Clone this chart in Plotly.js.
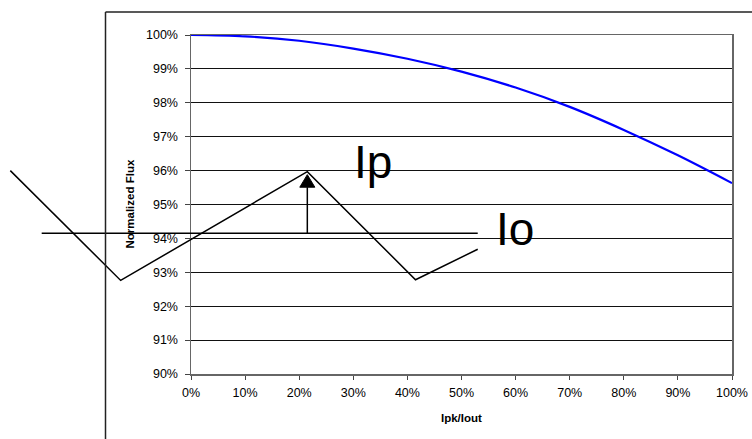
<!DOCTYPE html>
<html>
<head>
<meta charset="utf-8">
<script src="https://cdn.plot.ly/plotly-3.0.1.min.js"></script>
<style>html,body{margin:0;padding:0;background:#fff;}#chart{width:752px;height:439px;}</style>
</head>
<body>
<div id="chart"></div>
<script>
// Curve data: normalized flux vs Ipk/Iout
const ratio = [0, 0.1, 0.2, 0.3, 0.4, 0.5, 0.6, 0.7, 0.8, 0.9, 1.0];
const flux  = [1.0, 0.9996, 0.9983, 0.9960, 0.9930, 0.9892, 0.9845, 0.9788, 0.9720, 0.9645, 0.9563];

// Overlay sketch (ripple waveform), in axis units (x fraction, y fraction)
const waveX = [-0.334, -0.130, 0.215, 0.415, 0.530];
const waveY = [0.9600, 0.9276, 0.9597, 0.9278, 0.9368];
const ioLineX = [-0.276, 0.530];
const ioLineY = 0.9415;
const arrowX = 0.215;
const labelIp = {text: 'Ip', x: 0.298, y: 0.9624};
const labelIo = {text: 'Io', x: 0.560, y: 0.9427};

const xTickVals = [0,0.1,0.2,0.3,0.4,0.5,0.6,0.7,0.8,0.9,1.0];
const yTickVals = [0.90,0.91,0.92,0.93,0.94,0.95,0.96,0.97,0.98,0.99,1.00];

const xRange = [0, 1];
const yRange = [0.90, 1.00];
const W = 752, H = 439, ML = 191, MR = 20, MT = 35, MB = 65;
const PW = W - ML - MR, PH = H - MT - MB;
function px(v){ return (v - xRange[0]) / (xRange[1] - xRange[0]); }
function py(v){ return (v - yRange[0]) / (yRange[1] - yRange[0]); }
function pxFromPixel(p){ return (p - ML) / PW; }
function pyFromPixel(p){ return 1 - (p - MT) / PH; }

let wavePath = '';
for (let i = 0; i < waveX.length; i++) {
  wavePath += (i === 0 ? 'M ' : ' L ') + px(waveX[i]) + ',' + py(waveY[i]);
}
const peakY = waveY[2];
const headH = 0.0037, headHalfW = 0.0139;
const tip = py(peakY - 0.0009);
const base = py(peakY - 0.0009 - headH);

const shapes = [
  {type:'path', xref:'paper', yref:'paper', path: wavePath, line:{color:'#000', width:1.5}},
  {type:'line', xref:'paper', yref:'paper', x0: px(ioLineX[0]), x1: px(ioLineX[1]), y0: py(ioLineY), y1: py(ioLineY), line:{color:'#000', width:1.5}},
  {type:'line', xref:'paper', yref:'paper', x0: px(arrowX), x1: px(arrowX), y0: py(ioLineY), y1: base, line:{color:'#000', width:1.5}},
  {type:'path', xref:'paper', yref:'paper', path: 'M '+px(arrowX - headHalfW)+','+base+' L '+px(arrowX)+','+tip+' L '+px(arrowX + headHalfW)+','+base+' Z', fillcolor:'#000', line:{color:'#000', width:1}},
  // outer chart frame
  {type:'line', xref:'paper', yref:'paper', x0: pxFromPixel(105.5), x1: pxFromPixel(760), y0: pyFromPixel(12), y1: pyFromPixel(12), line:{color:'#222', width:1.5}},
  {type:'line', xref:'paper', yref:'paper', x0: pxFromPixel(105.5), x1: pxFromPixel(105.5), y0: pyFromPixel(12), y1: pyFromPixel(445), line:{color:'#222', width:1.5}}
];

const font = 'Liberation Sans, Arial, sans-serif';
const annotations = [
  {xref:'x', yref:'y', x: labelIp.x, y: labelIp.y, text: labelIp.text, showarrow:false, xanchor:'left', yanchor:'middle', font:{family:font, size:46, color:'#000'}},
  {xref:'x', yref:'y', x: labelIo.x, y: labelIo.y, text: labelIo.text, showarrow:false, xanchor:'left', yanchor:'middle', font:{family:font, size:46, color:'#000'}},
  {xref:'paper', yref:'paper', x: pxFromPixel(129), y: 0.5, text:'<b>Normalized Flux</b>', textangle:-90, showarrow:false, xanchor:'center', yanchor:'middle', font:{family:font, size:11.5, color:'#000'}},
  {xref:'paper', yref:'paper', x: 0.5, y: pyFromPixel(418), text:'<b>Ipk/Iout</b>', showarrow:false, xanchor:'center', yanchor:'middle', font:{family:font, size:11.5, color:'#000'}}
];

const trace = {
  x: ratio, y: flux, type:'scatter', mode:'lines',
  line:{color:'#0000FF', width:2.2, shape:'spline'}, hoverinfo:'skip'
};

const layout = {
  width: W, height: H,
  margin:{l:ML, r:MR, t:MT, b:MB, pad:0},
  paper_bgcolor:'#fff', plot_bgcolor:'#fff',
  showlegend:false,
  font:{family:font, size:12.5, color:'#000'},
  xaxis:{range:xRange, tickvals:xTickVals, tickformat:'.0%', showgrid:false, zeroline:false,
    showline:true, linecolor:'#666', linewidth:1.5, mirror:true, ticks:'outside', ticklen:4, tickcolor:'#444', tickwidth:1,
    ticklabelstandoff:2, fixedrange:true},
  yaxis:{range:yRange, tickvals:yTickVals, tickformat:'.0%', showgrid:true, gridcolor:'#111', gridwidth:1, zeroline:false,
    showline:true, linecolor:'#666', linewidth:1.5, mirror:true, ticks:'outside', ticklen:5, tickcolor:'#444', tickwidth:1,
    ticklabelstandoff:4, fixedrange:true},
  shapes: shapes,
  annotations: annotations
};

Plotly.newPlot('chart', [trace], layout, {displayModeBar:false, staticPlot:true});
</script>
</body>
</html>
